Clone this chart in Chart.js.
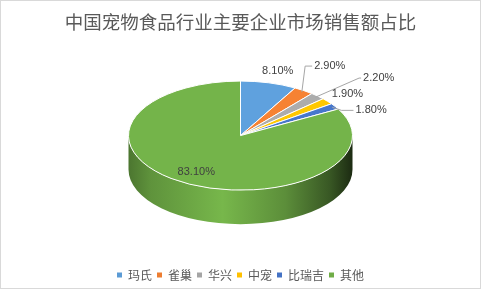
<!DOCTYPE html>
<html>
<head>
<meta charset="utf-8">
<script src="https://cdn.jsdelivr.net/npm/chart.js@4.4.0/dist/chart.umd.min.js"></script>
<style>
  html, body { margin: 0; padding: 0; background: #fff; }
  canvas { display: block; }
</style>
</head>
<body>
<canvas id="pieChart" width="481" height="289"></canvas>
<script>
const categories = ['玛氏', '雀巢', '华兴', '中宠', '比瑞吉', '其他'];
const shares = [8.1, 2.9, 2.2, 1.9, 1.8, 83.1];
const colors = ['#5B9BD5', '#ED7D31', '#A5A5A5', '#FFC000', '#4472C4', '#70AD47'];

// where each value label sits relative to its slice's rim point (null = inside the slice)
const labelOffsets = [[9, -12], [26, -24.5], [61, -18], [20, -7], [36, 4], null];
const leaderTails = [0, 7, 2, 0, 12, 0];

function shade(hex, f) {
  const n = parseInt(hex.slice(1), 16);
  const c = [n >> 16, (n >> 8) & 255, n & 255].map(v => Math.min(255, Math.round(v * f)));
  return 'rgb(' + c.join(',') + ')';
}

function geometry(chart, opts) {
  const arcs = chart.getDatasetMeta(0).data;
  const r = arcs[0].outerRadius;
  return {
    arcs: arcs,
    rx: r,
    ry: r * opts.tilt,
    depth: opts.depth,
    cx: arcs[0].x,
    cy: arcs[0].y - opts.depth / 2
  };
}

const pie3d = {
  id: 'pie3d',
  beforeDraw(chart) {
    const ctx = chart.ctx;
    ctx.save();
    ctx.fillStyle = '#fff';
    ctx.fillRect(0, 0, chart.width, chart.height);
    ctx.strokeStyle = '#d9d9d9';
    ctx.lineWidth = 1;
    ctx.strokeRect(0.5, 0.5, chart.width - 1, chart.height - 1);
    ctx.restore();
  },
  beforeDatasetsDraw(chart, args, opts) {
    const ctx = chart.ctx;
    const g = geometry(chart, opts);
    const bg = chart.data.datasets[0].backgroundColor;
    ctx.save();

    // side wall - only the front half (0..PI) is visible
    g.arcs.forEach((arc, i) => {
      const s = Math.max(arc.startAngle, 0);
      const e = Math.min(arc.endAngle, Math.PI);
      if (s >= e) return;
      const grad = ctx.createLinearGradient(g.cx - g.rx, 0, g.cx + g.rx, 0);
      grad.addColorStop(0, shade(bg[i], 0.68));
      grad.addColorStop(0.1, shade(bg[i], 0.85));
      grad.addColorStop(0.42, shade(bg[i], 1.06));
      grad.addColorStop(0.7, shade(bg[i], 0.82));
      grad.addColorStop(0.9, shade(bg[i], 0.5));
      grad.addColorStop(1, shade(bg[i], 0.25));
      ctx.beginPath();
      ctx.ellipse(g.cx, g.cy, g.rx, g.ry, 0, s, e);
      ctx.ellipse(g.cx, g.cy + g.depth, g.rx, g.ry, 0, e, s, true);
      ctx.closePath();
      ctx.fillStyle = grad;
      ctx.fill();
    });

    // top face
    g.arcs.forEach((arc, i) => {
      ctx.beginPath();
      ctx.moveTo(g.cx, g.cy);
      ctx.ellipse(g.cx, g.cy, g.rx, g.ry, 0, arc.startAngle, arc.endAngle);
      ctx.closePath();
      ctx.fillStyle = shade(bg[i], 1.04);
      ctx.fill();
      ctx.strokeStyle = '#fff';
      ctx.lineWidth = 1;
      ctx.stroke();
    });

    ctx.restore();
    return false;
  },
  afterDraw(chart, args, opts) {
    const ctx = chart.ctx;
    const g = geometry(chart, opts);
    ctx.save();
    ctx.font = '11px "Liberation Sans", Arial, sans-serif';
    ctx.fillStyle = '#404040';
    ctx.textAlign = 'center';
    ctx.textBaseline = 'middle';
    g.arcs.forEach((arc, i) => {
      const text = shares[i].toFixed(2) + '%';
      const mid = (arc.startAngle + arc.endAngle) / 2;
      const px = g.cx + g.rx * Math.cos(mid);
      const py = g.cy + g.ry * Math.sin(mid);
      const off = labelOffsets[i];
      if (!off) {
        ctx.fillText(text, g.cx + 0.78 * g.rx * Math.cos(mid), g.cy + 0.78 * g.ry * Math.sin(mid));
        return;
      }
      const tx = px + off[0], ty = py + off[1];
      ctx.fillText(text, tx, ty);
      if (leaderTails[i]) {
        const w = ctx.measureText(text).width;
        const endX = tx - w / 2 - 2;
        ctx.beginPath();
        ctx.moveTo(g.cx + 0.97 * g.rx * Math.cos(mid), g.cy + 0.97 * g.ry * Math.sin(mid));
        ctx.lineTo(endX - leaderTails[i], ty);
        ctx.lineTo(endX, ty);
        ctx.strokeStyle = '#a6a6a6';
        ctx.lineWidth = 1;
        ctx.stroke();
      }
    });
    ctx.restore();
  }
};

new Chart(document.getElementById('pieChart'), {
  type: 'pie',
  data: {
    labels: categories,
    datasets: [{
      data: shares,
      backgroundColor: colors,
      borderWidth: 0,
      radius: 112
    }]
  },
  options: {
    responsive: false,
    animation: false,
    events: [],
    layout: { padding: { bottom: -2 } },
    plugins: {
      pie3d: { tilt: 0.487, depth: 34 },
      title: {
        display: true,
        text: '中国宠物食品行业主要企业市场销售额占比',
        color: '#595959',
        font: { family: '"Noto Sans CJK SC", sans-serif', size: 18.5, weight: 'normal' },
        padding: { top: 11, bottom: 8 }
      },
      legend: {
        position: 'bottom',
        labels: {
          boxWidth: 5,
          boxHeight: 5,
          padding: 5,
          color: '#595959',
          font: { family: '"Noto Sans CJK SC", sans-serif', size: 12 }
        }
      },
      tooltip: { enabled: false }
    }
  },
  plugins: [pie3d]
});
</script>
</body>
</html>
